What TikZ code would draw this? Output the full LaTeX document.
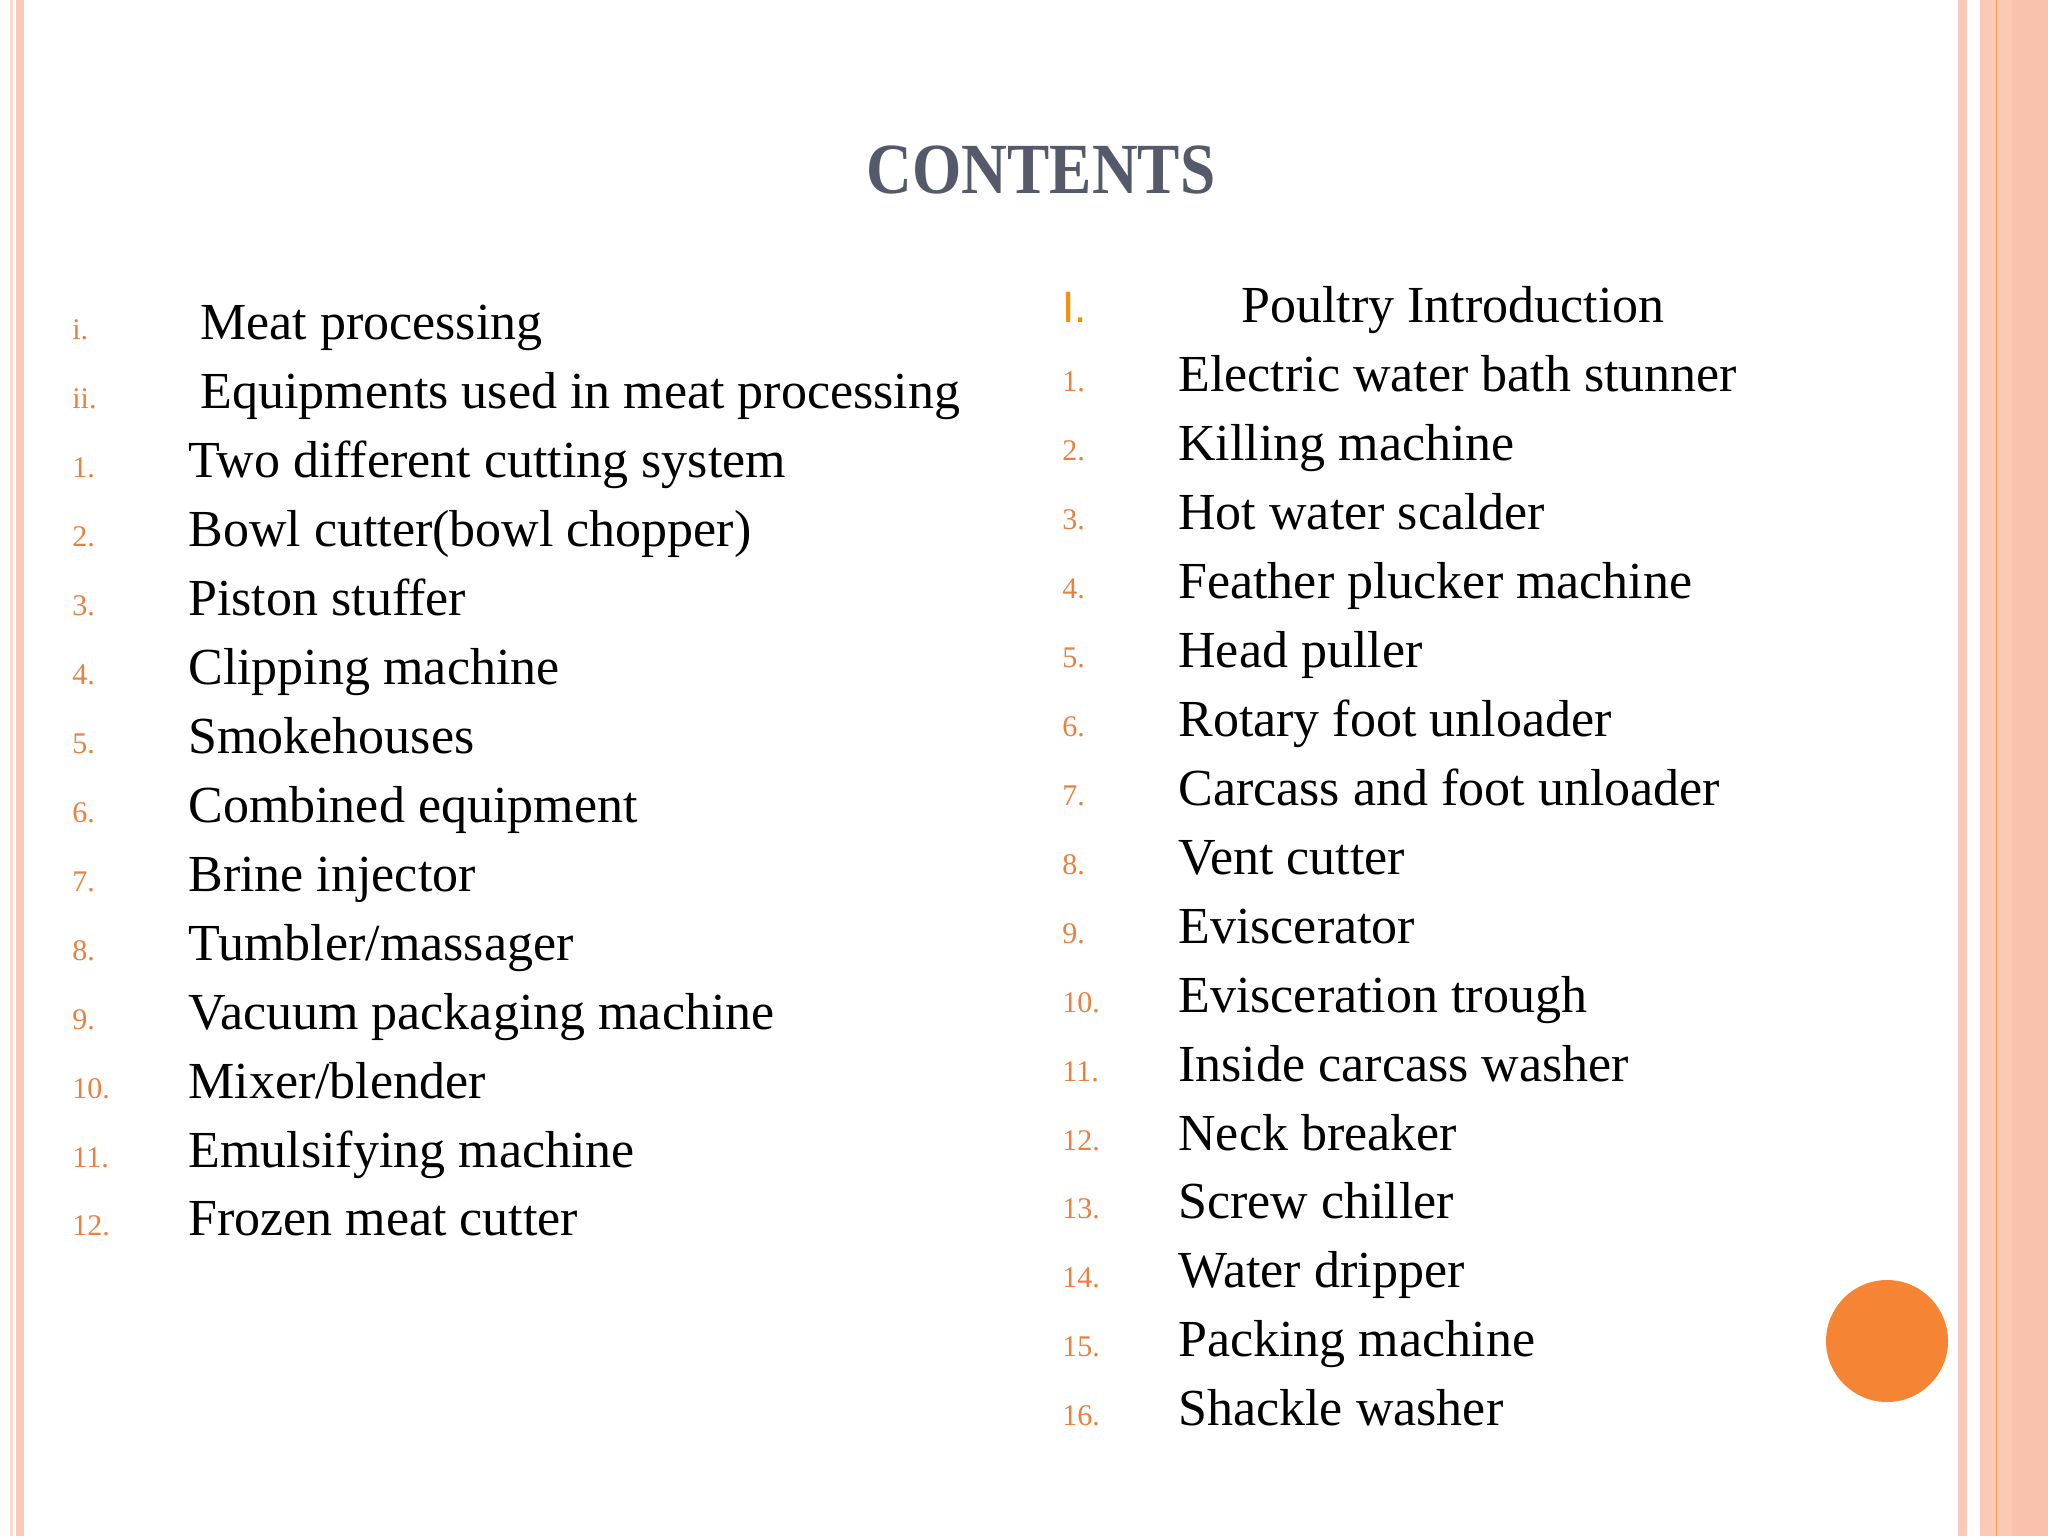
\documentclass[tikz,border=0pt]{standalone}
\usepackage{fontspec}
\setmainfont{Liberation Serif}
\newfontfamily\sansf{Liberation Sans}
\definecolor{band}{HTML}{FBC9B5}
\definecolor{bandd}{HTML}{F9C2AC}
\definecolor{orng}{HTML}{F58535}
\definecolor{numc}{HTML}{E8803F}
\definecolor{titc}{HTML}{555A6A}
\begin{document}
\begin{tikzpicture}[x=0.5pt,y=-0.5pt,
  itm/.style={anchor=base west,inner sep=0,font=\fontsize{26}{30}\selectfont},
  num/.style={anchor=base west,inner sep=0,text=numc,font=\fontsize{15}{18}\selectfont}]
\useasboundingbox (0,0) rectangle (2048,1536);
\fill[white] (0,0) rectangle (2048,1536);
% borders
\fill[band!70] (10,0) rectangle (13,1536);
\fill[band] (16,0) rectangle (24,1536);
\fill[band] (1958,0) rectangle (1967,1536);
\fill[band] (1980,0) rectangle (2048,1536);
\fill[bandd] (2012,0) rectangle (2048,1536);
\fill[orng!80] (1995.5,0) rectangle (1997,1536);
\fill[orng] (1887,1341) circle (61);
\node[font=\fontsize{36}{40}\selectfont\bfseries,text=titc,xscale=0.88,inner sep=0] (title) at (1041,170) {CONTENTS};
% left column
\node[num] (lI) at (72,339.6) {\textsc{i.}};
\node[itm] (tI) at (200,339.6) {Meat processing};
\node[num] (lII) at (72,408.6) {\textsc{ii.}};
\node[itm] (tII) at (200,408.6) {Equipments used in meat processing};
\foreach \t [count=\i] in {Two different cutting system,Bowl cutter(bowl chopper),Piston stuffer,Clipping machine,Smokehouses,Combined equipment,Brine injector,Tumbler/massager,Vacuum packaging machine,Mixer/blender,Emulsifying machine,Frozen meat cutter}{
  \node[num] (ln\i) at (72,{339.6+68.95*(\i+1)}) {\i.};
  \node[itm] (lt\i) at (188,{339.6+68.95*(\i+1)}) {\t};
}
% right column
\node[anchor=base west,inner sep=0,text=orange!90!yellow,font=\sansf\fontsize{22}{26}\selectfont] (rI) at (1062,322.6) {I.};
\node[itm] (rIt) at (1241,322.6) {Poultry Introduction};
\foreach \t [count=\i] in {Electric water bath stunner,Killing machine,Hot water scalder,Feather plucker machine,Head puller,Rotary foot unloader,Carcass and foot unloader,Vent cutter,Eviscerator,Evisceration trough,Inside carcass washer,Neck breaker,Screw chiller,Water dripper,Packing machine,Shackle washer}{
  \node[num] (rn\i) at (1062,{322.6+68.95*\i}) {\i.};
  \node[itm] (rt\i) at (1178,{322.6+68.95*\i}) {\t};
}
\end{tikzpicture}
\end{document}
